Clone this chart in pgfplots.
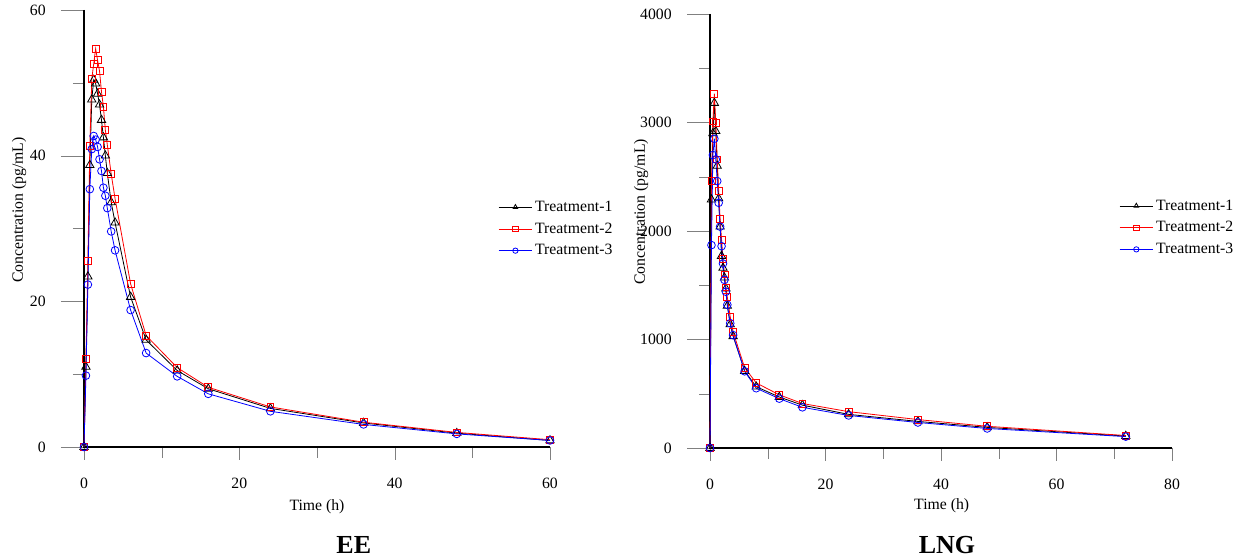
\documentclass[border=0pt]{standalone}
\usepackage{fontspec}
\setmainfont{Liberation Serif}
\usepackage{pgfplots}
\usepackage{pgfplotstable}
\pgfplotsset{compat=1.18}

% EE concentrations (pg/mL)
\pgfplotstableread{
t     T1    T2    T3
0     0     0     0
0.25  11.0  12.1  9.8
0.5   23.4  25.5  22.3
0.75  38.7  41.3  35.4
1     47.7  50.5  40.9
1.25  50.4  52.6  42.7
1.5   49.9  54.7  42.2
1.75  48.5  53.1  41.2
2     47.0  51.6  39.5
2.25  44.9  48.8  37.9
2.5   42.5  46.7  35.6
2.75  40.0  43.5  34.5
3     37.6  41.5  32.8
3.5   33.6  37.5  29.6
4     30.8  34.1  27.0
6     20.6  22.4  18.8
8     14.7  15.3  12.9
12    10.5  10.9  9.7
16    8.0   8.2   7.3
24    5.3   5.5   4.9
36    3.3   3.4   3.1
48    1.9   2.0   1.8
60    0.9   1.0   0.9
}\eedata

% LNG concentrations (pg/mL)
\pgfplotstableread{
t     T1    T2    T3
0     0     0     0
0.25  2290  2460  1870
0.5   2900  3010  2700
0.75  3180  3265  2850
1     2920  3000  2660
1.25  2600  2660  2460
1.5   2300  2370  2260
1.75  2040  2110  2040
2     1770  1920  1860
2.25  1660  1740  1700
2.5   1570  1600  1550
2.75  1470  1480  1440
3     1310  1390  1320
3.5   1140  1210  1150
4     1030  1070  1040
6     710   740   707
8     565   600   551
12    470   490   455
16    395   410   375
24    310   335   300
36    245   262   235
48    190   200   180
72    110   115   105
}\lngdata

\newcommand{\txt}{\fontsize{11.8}{14}\selectfont}
\tikzset{boldaxes/.style={black, line width=2.2pt}}

\pgfplotsset{
  pkbase/.style={
    scale only axis, clip=false,
    xmin=0, ymin=0,
    axis x line=bottom, axis y line=left,
    axis line style={-, gray, line width=0.8pt},
    tick align=outside,
    /pgf/number format/assume math mode=true,
    /pgf/number format/set thousands separator={},
    scaled ticks=false,
    ticklabel style={font=\txt},
    label style={font=\txt},
  },
  pkmain/.style={pkbase,
    major tick length=9.75pt, minor tick length=8.25pt,
    yticklabels={},
    xticklabel style={yshift=-10pt},
    legend style={draw=none, fill=none, font=\txt, anchor=west,
      row sep=3pt, cells={anchor=west}},
    legend image code/.code={\draw[mark repeat=2,mark phase=2,#1]
      plot coordinates {(0pt,0pt) (12.5pt,0pt) (25pt,0pt)};},
    legend image post style={mark size=2pt},
  },
  pkover/.style={pkbase,
    major tick length=17.25pt,
    xtick=\empty,
    yticklabel style={xshift=-8pt},
  },
  t1/.style={black, line width=0.6pt, mark=triangle, mark size=3.6pt, mark options={solid, fill=none}},
  t2/.style={red, line width=0.6pt, mark=square, mark size=2.6pt, mark options={solid, fill=none}},
  t3/.style={blue, line width=0.6pt, mark=o, mark size=2.9pt, mark options={solid, fill=none}},
}

\begin{document}
\begin{tikzpicture}
\path (0,0) rectangle (934.5pt,420pt);

% ---- EE ----
\begin{axis}[pkover, at={(63pt,84.75pt)}, anchor=south west,
    width=349.5pt, height=327.75pt, xmax=60, ymax=60,
    ytick={0,20,40,60},
    ylabel={Concentration (pg/mL)},
    ylabel style={at={(axis description cs:-0.1395,0.542)}, anchor=center}]
\end{axis}
\begin{axis}[pkmain, at={(63pt,84.75pt)}, anchor=south west,
    width=349.5pt, height=327.75pt, xmax=60, ymax=60,
    xtick={0,20,40,60}, minor xtick={10,30,50},
    ytick={0,20,40,60}, minor ytick={10,30,50},
    xlabel={Time (h)},
    xlabel style={at={(axis description cs:0.5,-0.1366)}, anchor=center},
    legend style={at={(axis description cs:0.880,0.499)}}]
\draw[boldaxes] (rel axis cs:0,1) -- (rel axis cs:0,0) -- (rel axis cs:1,0);
\addplot[t1] table[x=t, y=T1] {\eedata};
\addlegendentry{Treatment-1}
\addplot[t2] table[x=t, y=T2] {\eedata};
\addlegendentry{Treatment-2}
\addplot[t3] table[x=t, y=T3] {\eedata};
\addlegendentry{Treatment-3}
\node[font=\bfseries\fontsize{19.5}{22}\selectfont] at (axis description cs:0.579,-0.224) {EE};
\end{axis}

% ---- LNG ----
\begin{axis}[pkover, at={(532.5pt,84pt)}, anchor=south west,
    width=346.5pt, height=325.5pt, xmax=80, ymax=4000,
    ytick={0,1000,2000,3000,4000},
    ylabel={Concentration (pg/mL)},
    ylabel style={at={(axis description cs:-0.149,0.544)}, anchor=center}]
\end{axis}
\begin{axis}[pkmain, at={(532.5pt,84pt)}, anchor=south west,
    width=346.5pt, height=325.5pt, xmax=80, ymax=4000,
    xtick={0,20,40,60,80}, minor xtick={10,30,50,70},
    ytick={0,1000,2000,3000,4000}, minor ytick={500,1500,2500,3500},
    xlabel={Time (h)},
    xlabel style={at={(axis description cs:0.5015,-0.1336)}, anchor=center},
    legend style={at={(axis description cs:0.8766,0.5077)}}]
\draw[boldaxes] (rel axis cs:0,1) -- (rel axis cs:0,0) -- (rel axis cs:1,0);
\addplot[t1] table[x=t, y=T1] {\lngdata};
\addlegendentry{Treatment-1}
\addplot[t2] table[x=t, y=T2] {\lngdata};
\addlegendentry{Treatment-2}
\addplot[t3] table[x=t, y=T3] {\lngdata};
\addlegendentry{Treatment-3}
\node[font=\bfseries\fontsize{19.5}{22}\selectfont] at (axis description cs:0.513,-0.2235) {LNG};
\end{axis}
\end{tikzpicture}
\end{document}
